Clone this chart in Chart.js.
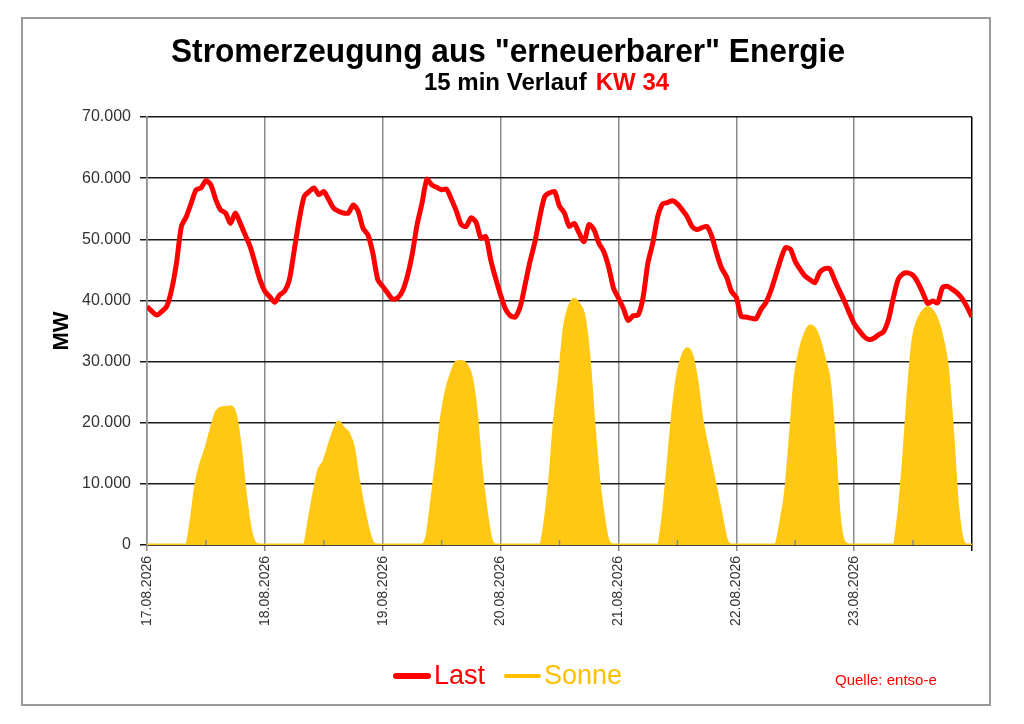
<!DOCTYPE html>
<html>
<head>
<meta charset="utf-8">
<script src="https://cdn.jsdelivr.net/npm/chart.js@4.4.1/dist/chart.umd.min.js"></script>
<style>
  html, body { margin: 0; padding: 0; background: #fff; }
  canvas { display: block; }
</style>
</head>
<body>
<canvas id="chart" width="1024" height="724"></canvas>
<script>
// tick labels of the days (KW 34)
const dayLabels = ['17.08.2026', '18.08.2026', '19.08.2026', '20.08.2026', '21.08.2026', '22.08.2026', '23.08.2026'];

// Last in MW, one value per hour, last value = end of 23.08.
const lastMW = [
  39000, 38200, 37600, 38200, 39000, 41700, 46100, 52100, 53700, 55900, 58100, 58400, 59600, 58900, 56500, 54800, 54300, 52600, 54300, 52600, 50700, 48800, 46100, 43400,
  41500, 40600, 39700, 40900, 41500, 43400, 48300, 53200, 57000, 57800, 58400, 57300, 57800, 56500, 55100, 54600, 54300, 54300, 55600, 54600, 51800, 50700, 47700, 43400,
  42300, 41200, 40200, 40400, 41500, 43900, 47500, 52400, 55900, 59800, 58900, 58500, 58100, 58200, 56500, 54600, 52400, 52100, 53500, 52800, 50200, 50400, 46600, 43600,
  40900, 38600, 37500, 37300, 39000, 42600, 46400, 49600, 53700, 57000, 57600, 57800, 55400, 54300, 52100, 52600, 51000, 49600, 52400, 51600, 49400, 48000, 45500, 42000,
  40400, 38700, 36700, 37500, 37600, 40400, 46100, 49400, 53700, 55800, 56000, 56300, 55800, 54800, 53700, 52100, 51600, 51900, 52100, 50500, 47700, 45300, 43900, 41500,
  40500, 37400, 37300, 37100, 37000, 38500, 39600, 41500, 44000, 46600, 48600, 48400, 46400, 45100, 44000, 43400, 42900, 44600, 45200, 45200, 43400, 41600, 39900, 38000,
  36200, 35100, 34100, 33600, 33800, 34400, 34900, 36900, 40500, 43500, 44400, 44500, 44100, 42900, 41200, 39500, 39900, 39600, 42100, 42300, 41800, 41200, 40300, 38900,
  37300
];

// Sonne in MW, one value per hour
const sonneMW = [
  0, 0, 0, 0, 0, 0, 0, 0, 0, 4100, 10100, 13400, 15800, 18800, 21500, 22400, 22500, 22600, 21300, 16100, 8500, 2700, 300, 0,
  0, 0, 0, 0, 0, 0, 0, 0, 0, 4100, 8500, 12300, 13600, 16100, 18500, 20100, 19100, 18300, 16100, 10900, 6500, 2700, 300, 0,
  0, 0, 0, 0, 0, 0, 0, 0, 0, 1400, 7400, 13900, 21000, 25400, 28100, 29900, 30000, 29500, 27600, 22100, 12800, 6000, 1100, 0,
  0, 0, 0, 0, 0, 0, 0, 0, 0, 3500, 10600, 20500, 27600, 35700, 39000, 40200, 39300, 37400, 30800, 19900, 10600, 4400, 500, 0,
  0, 0, 0, 0, 0, 0, 0, 0, 0, 4100, 12300, 21000, 27600, 30800, 32100, 30900, 26700, 20500, 16400, 12500, 8700, 4600, 800, 0,
  0, 0, 0, 0, 0, 0, 0, 0, 0, 3500, 8400, 17700, 27500, 31900, 34500, 35800, 35300, 33300, 30300, 26500, 16600, 4500, 400, 0,
  0, 0, 0, 0, 0, 0, 0, 0, 0, 4500, 13300, 24800, 33600, 36700, 38200, 38800, 38200, 36600, 33600, 29000, 19000, 7000, 1000, 0,
  0
];

const hours = lastMW.map((v, i) => i);

const FONT = '"Liberation Sans", Arial, sans-serif';

const decor = {
  id: 'decor',
  beforeDraw(chart) {
    const ctx = chart.ctx;
    ctx.save();
    ctx.fillStyle = '#fff';
    ctx.fillRect(0, 0, chart.width, chart.height);
    ctx.restore();
  },
  afterDatasetsDraw(chart) {
    // small ticks at noon
    const ctx = chart.ctx;
    const x = chart.scales.x;
    const b = chart.chartArea.bottom;
    ctx.save();
    ctx.strokeStyle = '#8c8c8c';
    ctx.lineWidth = 1.5;
    for (let d = 0; d < dayLabels.length; d++) {
      const px = x.getPixelForValue(d * 24 + 12);
      ctx.beginPath();
      ctx.moveTo(px, b - 5);
      ctx.lineTo(px, b);
      ctx.stroke();
    }
    ctx.restore();
  },
  afterDraw(chart) {
    const ctx = chart.ctx;
    ctx.save();
    // frame
    ctx.strokeStyle = '#9a9a9a';
    ctx.lineWidth = 2;
    ctx.strokeRect(22, 18, 968, 687);

    // title
    ctx.fillStyle = '#000';
    ctx.textAlign = 'left';
    ctx.textBaseline = 'alphabetic';
    ctx.font = 'bold 33px ' + FONT;
    ctx.fillText('Stromerzeugung aus "erneuerbarer" Energie', 171, 62, 674);

    // subtitle, two colours
    ctx.font = 'bold 24px ' + FONT;
    const s1 = '15 min Verlauf';
    const w1 = ctx.measureText(s1).width;
    ctx.fillText(s1, 424, 90);
    ctx.fillStyle = '#ff0000';
    ctx.fillText('KW 34', 424 + w1 + 9, 90);

    // legend
    ctx.textBaseline = 'middle';
    ctx.lineCap = 'round';
    ctx.strokeStyle = '#ff0000';
    ctx.lineWidth = 6;
    ctx.beginPath(); ctx.moveTo(396, 676); ctx.lineTo(428, 676); ctx.stroke();
    ctx.font = '27px ' + FONT;
    ctx.fillStyle = '#ff0000';
    ctx.fillText('Last', 434, 677);
    ctx.strokeStyle = '#ffc000';
    ctx.lineWidth = 4;
    ctx.beginPath(); ctx.moveTo(506, 676); ctx.lineTo(539, 676); ctx.stroke();
    ctx.fillStyle = '#ffc000';
    ctx.fillText('Sonne', 544, 677);

    // source
    ctx.font = '15px ' + FONT;
    ctx.fillStyle = '#ff0000';
    ctx.fillText('Quelle: entso-e', 835, 681);
    ctx.restore();
  }
};

new Chart(document.getElementById('chart').getContext('2d'), {
  type: 'line',
  data: {
    labels: hours,
    datasets: [
      {
        label: 'Last',
        data: lastMW,
        borderColor: '#ff0000',
        borderWidth: 5,
        pointRadius: 0,
        tension: 0.25,
        fill: false
      },
      {
        label: 'Sonne',
        data: sonneMW,
        borderColor: '#ffc814',
        backgroundColor: '#ffc814',
        borderWidth: 3,
        pointRadius: 0,
        cubicInterpolationMode: 'monotone',
        fill: 'origin'
      }
    ]
  },
  options: {
    responsive: false,
    animation: false,
    devicePixelRatio: 1,
    layout: { padding: { top: 117, right: 52, bottom: 0, left: 0 } },
    plugins: {
      legend: { display: false },
      title: { display: false },
      tooltip: { enabled: false }
    },
    scales: {
      x: {
        type: 'linear',
        min: 0,
        max: 168,
        afterFit: (s) => { s.height = 179; },
        afterBuildTicks: (s) => {
          s.ticks = hours.filter(h => h % 24 === 0).map(h => ({ value: h }));
        },
        ticks: {
          autoSkip: false,
          maxRotation: 90,
          minRotation: 90,
          padding: 5,
          color: '#333',
          font: { family: FONT, size: 14 },
          callback: (v) => dayLabels[v / 24] || ''
        },
        grid: {
          color: (c) => (c.tick && c.tick.value === 168 ? '#000' : '#8c8c8c'),
          lineWidth: 1.5,
          tickLength: 6
        },
        border: { color: '#000', width: 1.5 }
      },
      y: {
        min: 0,
        max: 70000,
        afterFit: (s) => { s.width = 147; },
        ticks: {
          stepSize: 10000,
          padding: 9,
          color: '#333',
          font: { family: FONT, size: 16 },
          callback: (v) => v.toLocaleString('de-DE')
        },
        grid: { color: '#1a1a1a', lineWidth: 1.5, tickLength: 7 },
        border: { color: '#8c8c8c', width: 1.5 },
        title: {
          display: true,
          text: 'MW',
          color: '#000',
          font: { family: FONT, size: 22, weight: 'bold' },
          padding: { top: 49, bottom: 0 }
        }
      }
    }
  },
  plugins: [decor]
});
</script>
</body>
</html>
